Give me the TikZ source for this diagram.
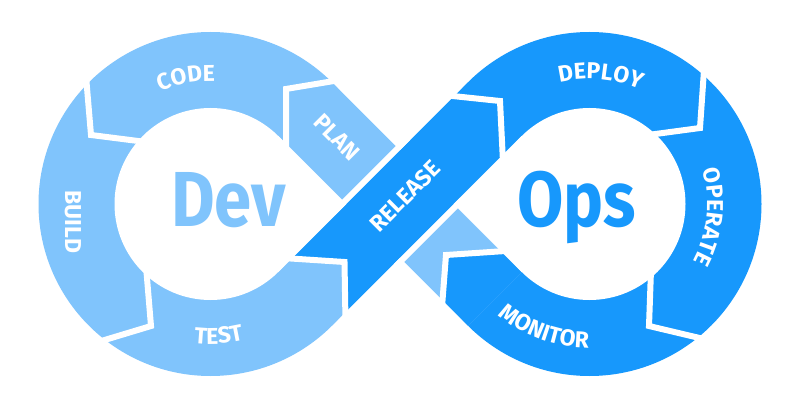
\documentclass[tikz,border=0pt]{standalone}
\usepackage{fontspec}
\setmainfont{Fira Sans}
\usetikzlibrary{decorations.text,calc}
\definecolor{lightb}{HTML}{80C4FC}
\definecolor{darkb}{HTML}{1798FC}
\begin{document}
\begin{tikzpicture}[x=1pt,y=-1pt,
  gap/.style={draw=white,line width=6pt,line join=miter,line cap=butt},
  lbl/.style={text=white,font=\bfseries\fontsize{23}{23}\selectfont,inner sep=0pt},
  big/.style={font=\bfseries\fontsize{78}{78}\selectfont,anchor=base,inner sep=0pt,xscale=0.86},
  curvlbl/.style={decorate,decoration={text along path,text align=center,text color=white,
     text={|\bfseries\fontsize{23}{23}\selectfont|#1}}}]
\fill[white] (0,0) rectangle (798,406);
\useasboundingbox (0,0) rectangle (798,406);
% geometry
\coordinate (CL) at (210.5,204);
\coordinate (CR) at (589.5,204);
\coordinate (P1) at (278.4,136.1);
\coordinate (P2) at (332.1,82.4);
\coordinate (P3) at (521.6,271.9);
\coordinate (P4) at (467.9,325.6);
\coordinate (Q1) at (278.4,271.9);
\coordinate (Q2) at (332.1,325.6);
\coordinate (Q3) at (521.6,136.1);
\coordinate (Q4) at (467.9,82.4);
\coordinate (XL) at (346.3,204);
\coordinate (XR) at (453.7,204);
\coordinate (Vt) at (344.5,262);
\coordinate (Ta) at (291.7,258.6);
\coordinate (Tb) at (345.3,312.3);
\coordinate (Vm) at (446,255);
\coordinate (Ma) at (501,251.3);
\coordinate (Mb) at (442.5,300.1);
% loops
\fill[lightb] (CL) circle[radius=172pt];
\fill[darkb] (CR) circle[radius=172pt];
% plan / light band
\fill[lightb] (P1) -- (P2) -- (P3) -- (P4) -- cycle;
% monitor tip
\fill[darkb] (Vm) -- (Ma) -- (P3) -- (P4) -- (Mb) -- cycle;
% test tip
\fill[lightb] (Q1) -- (Ta) -- (Vt) -- (Tb) -- (Q2) -- cycle;
% release band
\fill[darkb] (Ta) -- (Vt) -- (Tb) -- (Q3) -- (Q4) -- cycle;
% holes
\fill[white] (CL) circle[radius=96pt];
\fill[white] (CL) -- (P1) -- (XL) -- (Q1) -- cycle;
\fill[white] (CR) circle[radius=96pt];
\fill[white] (CR) -- (Q3) -- (XR) -- (P3) -- cycle;
% gaps along release over light band
\coordinate (r1) at (333,213);
\coordinate (r2) at (408,138);
\coordinate (r3) at (396,266);
\coordinate (r4) at (462,200);
\draw[gap] (r1) -- (r2);
\draw[gap] (r3) -- (r4);
% chevron gaps
\coordinate (g1a) at (86,76);  \coordinate (g1v) at (91,135);  \coordinate (g1b) at (146,142);
\coordinate (g2a) at (146,266); \coordinate (g2v) at (151,326); \coordinate (g2b) at (98,342);
\coordinate (g3a) at (283,258); \coordinate (g3b) at (345.5,322);
\coordinate (g4a) at (443,95);  \coordinate (g4v) at (500,101); \coordinate (g4b) at (503,162);
\coordinate (g5a) at (704,70);  \coordinate (g5v) at (700,128); \coordinate (g5b) at (648,135);
\coordinate (g6a) at (651,270); \coordinate (g6v) at (649,326); \coordinate (g6b) at (708,340);
\coordinate (g7a) at (507,250.9); \coordinate (g7b) at (442,307);
\coordinate (g8a) at (346,79);  \coordinate (g8v) at (286,89);  \coordinate (g8b) at (286,150);
\draw[gap] (g1a) -- (g1v) -- (g1b);
\draw[gap] (g2a) -- (g2v) -- (g2b);
\draw[gap] (g3a) -- (Vt) -- (g3b);
\draw[gap] (g4a) -- (g4v) -- (g4b);
\draw[gap] (g5a) -- (g5v) -- (g5b);
\draw[gap] (g6a) -- (g6v) -- (g6b);
\draw[gap] (g7a) -- (Vm) -- (g7b);
\draw[gap] (g8a) -- (g8v) -- (g8b);
% big words
\node[big,text=lightb] (dev) at (228.5,227) {Dev};
\node[big,text=darkb] (ops) at (576.5,227) {Ops};
% straight labels
\node[lbl,rotate=-90] (build) at (73,222) {BUILD};
\node[lbl,rotate=-45] (plan) at (337,137) {PLAN};
\node[lbl,rotate=45] (release) at (405,196) {RELEASE};
% curved labels
\path[curvlbl={CODE}] ($(CL)+(141:123pt)$) arc[start angle=141,end angle=61,radius=123pt];
\path[curvlbl={TEST}] ($(CL)+(-126.5:140pt)$) arc[start angle=-126.5,end angle=-46.5,radius=140pt];
\path[curvlbl={DEPLOY}] ($(CR)+(130:125pt)$) arc[start angle=130,end angle=40,radius=125pt];
\path[curvlbl={OPERATE}] ($(CR)+(44:118pt)$) arc[start angle=44,end angle=-56,radius=118pt];
\path[curvlbl={MONITOR}] ($(CR)+(200:144pt)$) arc[start angle=200,end angle=300,radius=144pt];
\end{tikzpicture}
\end{document}
